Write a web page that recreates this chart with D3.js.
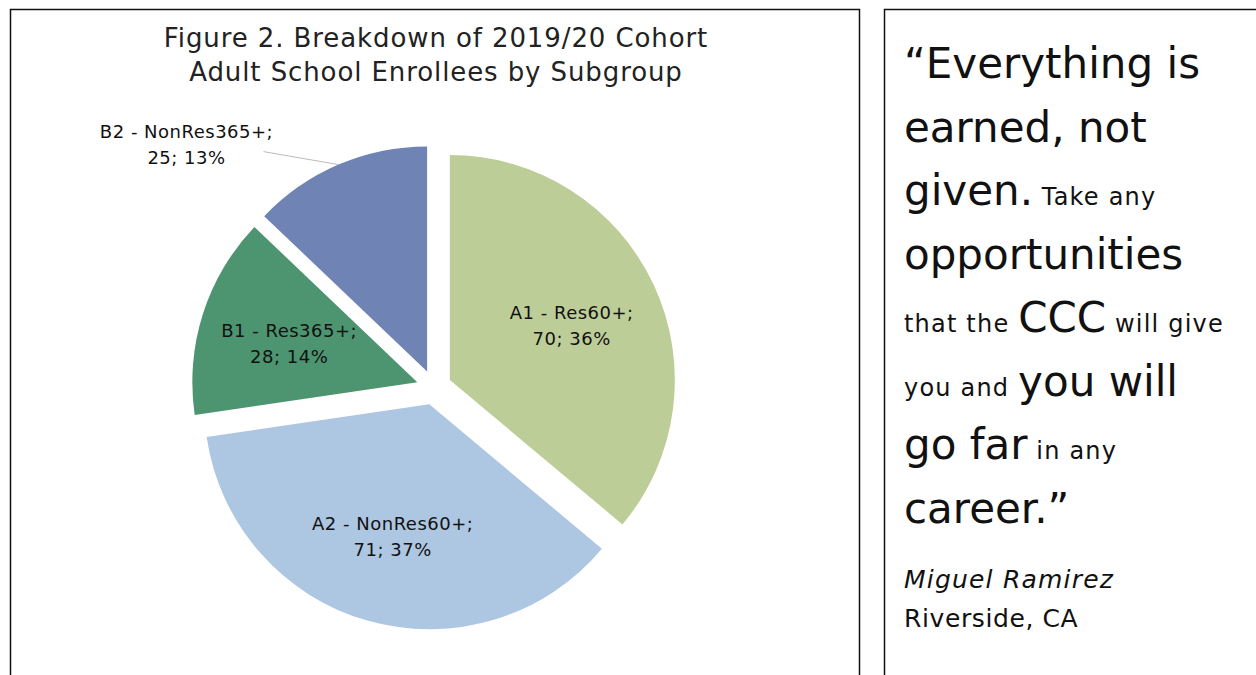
<!DOCTYPE html>
<html>
<head>
<meta charset="utf-8">
<script src="https://cdn.jsdelivr.net/npm/d3@7"></script>
<style>
  body { margin: 0; background: #fff; }
  svg { display: block; }
</style>
</head>
<body>
<svg id="chart" width="1256" height="675"></svg>
<script>
// chart data
var categories = ["A1 - Res60+", "A2 - NonRes60+", "B1 - Res365+", "B2 - NonRes365+"];
var counts = [70, 71, 28, 25];
var percents = ["36%", "37%", "14%", "13%"];
var colors = ["#bdcd98", "#adc6e2", "#4d9470", "#6f84b4"];
var titleLines = ["Figure 2. Breakdown of 2019/20 Cohort", "Adult School Enrollees by Subgroup"];

var font = "'DejaVu Sans', sans-serif";
const svg = d3.select("#chart");

// frames
svg.append("rect").attr("x", 10.5).attr("y", 9.5).attr("width", 849).attr("height", 700)
    .style("fill", "none").style("stroke", "#111").style("stroke-width", 1.5);
svg.append("rect").attr("x", 884.5).attr("y", 9.5).attr("width", 400).attr("height", 700)
    .style("fill", "none").style("stroke", "#111").style("stroke-width", 1.5);

// title
svg.selectAll(".title").data(titleLines).enter().append("text")
    .attr("x", 436).attr("y", function (d, i) { return 47 + i * 34; })
    .attr("text-anchor", "middle")
    .style("font-family", font).style("font-size", "26px").style("letter-spacing", "0.9px").style("fill", "#222")
    .text(function (d) { return d; });

// pie
var cx = 434, cy = 387.5, r = 225, explode = 17.5;
var pie = d3.pie().sort(null).value(function (d) { return d; });
var arcs = pie(counts);
var arc = d3.arc().innerRadius(0).outerRadius(r);
var g = svg.append("g").attr("transform", "translate(" + cx + "," + cy + ")");

var offset = function (a, dist) {
    var m = (a.startAngle + a.endAngle) / 2;
    return [Math.sin(m) * dist, -Math.cos(m) * dist];
};

g.selectAll("path").data(arcs).enter().append("path")
    .attr("d", arc)
    .attr("transform", function (d) { var o = offset(d, explode); return "translate(" + o[0] + "," + o[1] + ")"; })
    .style("fill", function (d, i) { return colors[i]; });

// labels
arcs.forEach(function (a, i) {
    var lines = [categories[i] + ";", counts[i] + "; " + percents[i]];
    var x, y;
    if (i < 3) {
        var p = offset(a, 152);
        x = p[0]; y = p[1] + 2;
    } else {
        // outside label with leader line
        var s = offset(a, r + explode);
        var e = [s[0] - 75, s[1] - 13];
        g.append("line").attr("x1", s[0]).attr("y1", s[1]).attr("x2", e[0]).attr("y2", e[1])
            .style("stroke", "#bbb").style("stroke-width", 1);
        x = e[0] - 77; y = e[1] - 8;
    }
    g.append("text").attr("text-anchor", "middle")
        .style("font-family", font).style("font-size", "18px").style("letter-spacing", "0.5px").style("fill", "#111")
        .selectAll("tspan").data(lines).enter().append("tspan")
        .attr("x", x).attr("y", function (d, j) { return y + (j === 0 ? -6 : 20); })
        .text(function (d) { return d; });
});

// quote panel
var quoteLines = [
    [["\u201CEverything is", 1]],
    [["earned, not", 1]],
    [["given.", 1], [" Take any", 0]],
    [["opportunities", 1]],
    [["that the ", 0], ["CCC", 1], [" will give", 0]],
    [["you and ", 0], ["you will", 1]],
    [["go far", 1], [" in any", 0]],
    [["career.\u201D", 1]]
];
var q = svg.append("g");
quoteLines.forEach(function (line, i) {
    var t = q.append("text").attr("x", 904).attr("y", 78 + i * 63.5)
        .style("font-family", font).style("fill", "#111");
    line.forEach(function (part) {
        t.append("tspan")
            .style("font-size", part[1] ? "42px" : "24px")
            .style("letter-spacing", part[1] ? "0px" : "1.2px")
            .text(part[0]);
    });
});
q.append("text").attr("x", 904).attr("y", 588)
    .style("font-family", font).style("font-size", "25px").style("letter-spacing", "1.2px")
    .style("font-style", "italic").style("fill", "#111")
    .text("Miguel Ramirez");
q.append("text").attr("x", 904).attr("y", 627)
    .style("font-family", font).style("font-size", "25px").style("letter-spacing", "0.6px").style("fill", "#111")
    .text("Riverside, CA");
</script>
</body>
</html>
